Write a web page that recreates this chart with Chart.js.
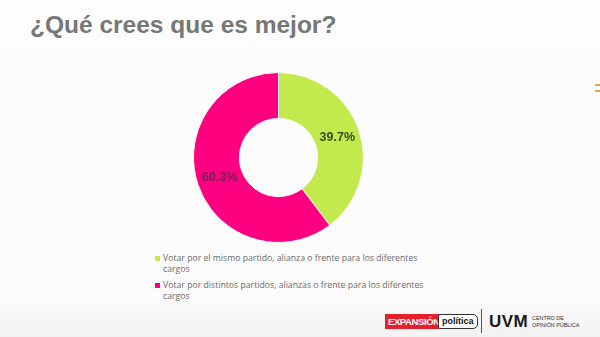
<!DOCTYPE html>
<html>
<head>
<meta charset="utf-8">
<script src="https://cdn.jsdelivr.net/npm/chart.js@4.4.1/dist/chart.umd.min.js"></script>
<style>
  html, body { margin: 0; padding: 0; }
  body {
    width: 600px; height: 337px; position: relative; overflow: hidden;
    background: linear-gradient(to bottom, #fdfdfd 0%, #fbfbfb 88%, #f2f2f2 100%);
    font-family: "Liberation Sans", Arial, sans-serif;
  }
  #title {
    position: absolute; left: 30px; top: 11px;
    font-size: 24.5px; font-weight: bold; color: #777777; letter-spacing: 0;
  }
  #chartBox { position: absolute; left: 193px; top: 72px; width: 171px; height: 171px; }
  #legend { position: absolute; left: 155px; top: 253px; width: 285px; font-family: "Open Sans", sans-serif; }
  .item { position: relative; padding-left: 8px; font-size: 8.7px; line-height: 10.5px; color: #6b6b6b; margin-bottom: 6px; }
  .item i { position: absolute; left: 0; top: 3px; width: 4.5px; height: 4.5px; }
  .tick { position: absolute; left: 595px; width: 5px; height: 1.5px; background: #e8a33c; }
  #exp { position: absolute; left: 385px; top: 314px; height: 15px; background: #e5202a; color: #fff;
         font-size: 9.5px; font-weight: bold; line-height: 15px; padding: 0 3px; letter-spacing: -0.4px; }
  #pol { position: absolute; left: 438px; top: 314px; height: 13px; border: 1px solid #333; border-radius: 2px 5px 5px 2px;
         background: #fff; color: #111; font-size: 9px; font-weight: bold; line-height: 13px; padding: 0 3px; }
  #sep { position: absolute; left: 481px; top: 309px; width: 1px; height: 24px; background: #555; }
  #uvm { position: absolute; left: 489px; top: 312px; font-size: 17px; font-weight: bold; color: #1a1a1a; letter-spacing: 0.5px; }
  #cop { position: absolute; left: 532px; top: 315px; font-size: 5.4px; line-height: 7px; color: #333; }
</style>
</head>
<body>
<div id="title">¿Qué crees que es mejor?</div>
<div id="chartBox"><canvas id="myChart"></canvas></div>
<div id="legend"></div>
<span class="tick" style="top:84px"></span>
<span class="tick" style="top:90px"></span>
<div id="exp">EXPANSIÓN</div>
<div id="pol">política</div>
<div id="sep"></div>
<div id="uvm">UVM</div>
<div id="cop">CENTRO DE<br>OPINIÓN PÚBLICA</div>
<script>
// datos
var options = ['Votar por el mismo partido, alianza o frente para los diferentes cargos',
               'Votar por distintos partidos, alianzas o frente para los diferentes cargos'];
var percents = [39.7, 60.3];
var colors = ['#c2ea4c', '#ff0080'];
var labelColors = ['#3e4a26', '#6e2458'];

// leyenda
var legendHtml = '';
for (var i = 0; i < options.length; i++) {
  legendHtml += '<div class="item"><i style="background:' + colors[i] + '"></i>' + options[i] + '</div>';
}
document.getElementById('legend').innerHTML = legendHtml;

// etiquetas sobre los sectores
var pctLabels = {
  id: 'pctLabels',
  afterDatasetsDraw: function (chart) {
    var ctx = chart.ctx;
    var meta = chart.getDatasetMeta(0);
    ctx.save();
    ctx.font = 'bold 12.5px "Liberation Sans", Arial, sans-serif';
    ctx.textAlign = 'center';
    ctx.textBaseline = 'middle';
    meta.data.forEach(function (arc, i) {
      var p = arc.tooltipPosition();
      ctx.fillStyle = labelColors[i];
      ctx.fillText(percents[i].toFixed(1) + '%', p.x, p.y);
    });
    ctx.restore();
  }
};

var ctx = document.getElementById('myChart');
var myChart = new Chart(ctx, {
  type: 'doughnut',
  data: {
    labels: options,
    datasets: [
      {
        data: percents,
        backgroundColor: colors,
        borderColor: '#ffffff',
        borderWidth: 1
      }
    ]
  },
  options: {
    responsive: true,
    maintainAspectRatio: false,
    animation: false,
    cutout: '46%',
    layout: { padding: 0 },
    plugins: {
      legend: { display: false },
      tooltip: { enabled: false }
    }
  },
  plugins: [pctLabels]
});
</script>
</body>
</html>
